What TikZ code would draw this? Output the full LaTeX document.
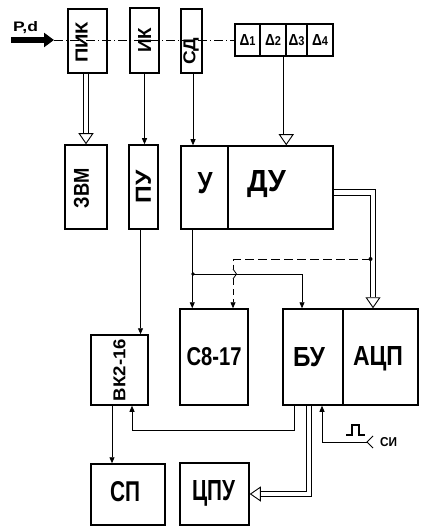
\documentclass[tikz,border=0pt]{standalone}
\usepackage{fontspec}
\setmainfont{Liberation Sans}
\usetikzlibrary{arrows.meta,positioning,calc}
\tikzset{
  blk/.style={draw,line width=1.5pt,inner sep=0pt},
  cell/.style={draw,line width=1.5pt,inner sep=0pt,minimum height=32pt},
  txt/.style={inner sep=0pt},
  arr/.style={line width=0.8pt,-{Triangle[length=6pt,width=5pt]}},
  bus/.style={line width=0.8pt,double,double distance=4.5pt,-{Triangle[open,fill=white,length=11pt,width=15pt,line width=0.9pt]}},
  ax/.style={line width=0.4pt,dash pattern=on 9pt off 3pt on 1pt off 3pt},
}
\newcommand{\lbl}[3]{\resizebox{#1pt}{#2pt}{\bfseries #3}}
\newcommand{\rlbl}[3]{\rotatebox{90}{\lbl{#1}{#2}{#3}}}

\begin{document}
\begin{tikzpicture}[x=1pt,y=-1pt]
\useasboundingbox (0,0) rectangle (420,526);
\node[blk,minimum width=39pt,minimum height=64pt] (pik) at (87.5,41) {};
\node[txt] (pik-t) at (81.5,42.5) {\rlbl{41}{12}{ПИК}};
\node[blk,minimum width=29pt,minimum height=65pt] (ik) at (144.5,40.5) {\rlbl{25}{13}{ИК}};
\node[blk,minimum width=21pt,minimum height=64pt] (sd) at (191.5,41) {};
\node[txt] (sd-t) at (191,51.5) {\rlbl{27}{12}{СД}};
\foreach \i/\cx/\w in {1/247.5/25,2/273/26,3/296.5/21,4/320/26}
  \node[cell,minimum width=\w pt] (d\i) at (\cx,40) {\lbl{16}{11}{Δ{\footnotesize\i}}};
\node[blk,minimum width=42pt,minimum height=84pt] (zvm) at (86,187) {};
\node[txt] (zvm-t) at (81.5,188) {\rlbl{40}{15}{ЗВМ}};
\node[blk,minimum width=29pt,minimum height=84pt] (pu) at (143.5,187) {\rlbl{33}{15}{ПУ}};
\node[blk,minimum width=47pt,minimum height=83pt] (u) at (204.5,187.5) {};
\node[txt] (u-t) at (205,183.5) {\lbl{15}{21}{У}};
\node[blk,minimum width=105pt,minimum height=83pt] (du) at (280.5,187.5) {};
\node[txt] (du-t) at (266.5,184) {\lbl{39}{21}{ДУ}};
\node[blk,minimum width=68pt,minimum height=96pt] (c817) at (214,357) {\lbl{55}{18}{С8-17}};
\node[blk,minimum width=60pt,minimum height=96pt] (bu) at (313,357) {};
\node[txt] (bu-t) at (309,357.5) {\lbl{32}{19}{БУ}};
\node[blk,minimum width=75pt,minimum height=96pt] (acp) at (380.5,357) {};
\node[txt] (acp-t) at (378,358.5) {\lbl{50}{19}{АЦП}};
\node[blk,minimum width=57pt,minimum height=70pt] (vk) at (119.5,370) {\rlbl{62}{12}{ВК2-16}};
\node[blk,minimum width=74pt,minimum height=61pt] (sp) at (128,494.5) {};
\node[txt] (sp-t) at (125,492) {\lbl{30}{20}{СП}};
\node[blk,minimum width=69pt,minimum height=62pt] (cpu) at (214.5,494) {};
\node[txt] (cpu-t) at (213.5,493) {\lbl{43}{20}{ЦПУ}};
\coordinate (pd0) at (11,40);
\coordinate (pd1) at (54,40);
\node[txt] (pd) at (25.5,28) {\lbl{25}{10}{P,d}};
\draw[line width=6pt,-{Triangle[length=10pt,width=14pt]}] (pd0) -- (pd1);
\draw[ax] (pd1) -- (d1.west);
\draw[bus] (zvm.north |- pik.south) -- (zvm.north);
\draw[arr] (ik.south) -- (ik.south |- pu.north);
\draw[arr] ([xshift=1.5pt]sd.south) -- ([xshift=1.5pt]sd.south |- u.north);
\draw[bus] ([xshift=1pt]d3.south west) -- ([xshift=1pt]d3.south west |- du.north);
\draw[bus] ([yshift=-5pt]du.east) -| ([xshift=-7.5pt]acp.north);
\coordinate (tap) at (370.5,259);
\coordinate (j1) at (193,274);
\fill (tap) circle (2pt) (j1) circle (1.8pt);
\draw[line width=0.8pt,dash pattern=on 9pt off 4pt] (tap) -| (233,269);
\draw[line width=0.8pt] (233,269) -- (236.5,274) -- (233,279);
\draw[line width=0.8pt,dash pattern=on 6pt off 4pt,-{Triangle[length=6pt,width=5pt]}] (233,279) -- ([xshift=19pt]c817.north);
\draw[arr] ([xshift=12pt]u.south west) -- ([xshift=12pt]u.south west |- c817.north);
\draw[arr] (j1) -| ([xshift=-11pt]bu.north);
\draw[arr] ([xshift=-3pt]pu.south) -- ([xshift=-3pt]pu.south |- vk.north);
\draw[arr] ([xshift=-19pt]bu.south) -- ++(0,25) -| ([xshift=12.5pt]vk.south);
\draw[bus] ([xshift=-4pt]bu.south) |- (cpu.east);
\draw[arr] ([xshift=-7.5pt]vk.south) -- ([xshift=-7.5pt]vk.south |- sp.north);
\coordinate (si) at (367,442);
\node[txt] (si-t) at (388.5,442) {\lbl{17}{9}{СИ}};
\draw[arr] (si) -| ([xshift=9pt]bu.south);
\draw[line width=0.8pt] (373,436) -- (si) -- (373,448);
\draw[line width=1.8pt] (346,435) -- (352,435) -- (352,425) -- (359,425) -- (359,435) -- (365,435);
\end{tikzpicture}
\end{document}
